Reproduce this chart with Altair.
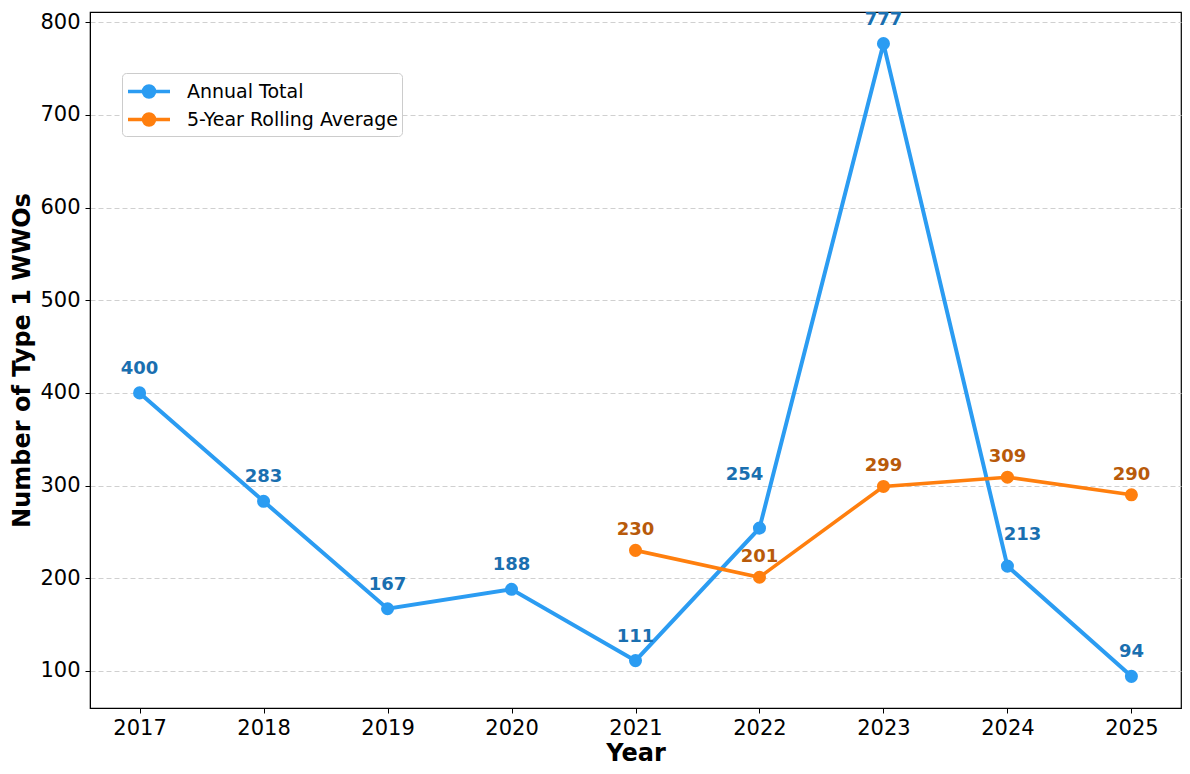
import altair as alt
import pandas as pd

years = [2017, 2018, 2019, 2020, 2021, 2022, 2023, 2024, 2025]
annual_total = [400, 283, 167, 188, 111, 254, 777, 213, 94]
rolling_years = [2021, 2022, 2023, 2024, 2025]
rolling_avg = [230, 201, 299, 309, 290]
series_names = ["Annual Total", "5-Year Rolling Average"]
line_colors = ["#2b9cf2", "#ff7f0e"]
label_colors = ["#1a6fb0", "#b85a0a"]
y_ticks = [100, 200, 300, 400, 500, 600, 700, 800]

df = pd.concat([
    pd.DataFrame({"year": years, "value": annual_total, "series": series_names[0]}),
    pd.DataFrame({"year": rolling_years, "value": rolling_avg, "series": series_names[1]}),
], ignore_index=True)

FONT = "DejaVu Sans"

x = alt.X("year:Q",
          scale=alt.Scale(domain=[2016.6, 2025.4], nice=False, zero=False),
          axis=alt.Axis(values=years, format="d", title="Year", grid=False,
                        labelPadding=4, titlePadding=3))
y = alt.Y("value:Q",
          scale=alt.Scale(domain=[59.85, 811.15], nice=False, zero=False),
          axis=alt.Axis(values=y_ticks, title="Number of Type 1 WWOs", grid=True,
                        gridDash=[5, 3], gridColor="#d0d0d0", gridWidth=1,
                        labelPadding=5, titlePadding=5))

cscale = alt.Scale(domain=series_names, range=line_colors)

legend_path = ("M-1,0L2.36,0M0.24,0A0.44,0.44,0,1,1,1.12,0"
               "A0.44,0.44,0,1,1,0.24,0Z")
legend = alt.Legend(title=None, orient="none", legendX=32, legendY=61,
                    symbolType=legend_path, symbolSize=625, symbolStrokeWidth=3.5,
                    symbolOpacity=1, labelFontSize=19, labelOffset=32, labelLimit=0,
                    labelColor="black", labelFont=FONT,
                    fillColor="white", strokeColor="#cccccc", cornerRadius=4,
                    padding=4, rowPadding=1)

base = alt.Chart(df)

line_annual = base.transform_filter(
    alt.datum.series == series_names[0]
).mark_line(strokeWidth=4, color=line_colors[0]).encode(x=x, y=y)

line_rolling = base.transform_filter(
    alt.datum.series == series_names[1]
).mark_line(strokeWidth=3.6, color=line_colors[1]).encode(x=x, y=y)

points = base.mark_point(filled=True, size=170, strokeWidth=0, opacity=1).encode(
    x=x, y=y,
    fill=alt.Fill("series:N", scale=cscale, legend=legend),
    stroke=alt.Stroke("series:N", scale=cscale, legend=legend))

txt = dict(fontWeight="bold", fontSize=18, font=FONT, align="center", baseline="middle")

blue_default = base.transform_filter(
    (alt.datum.series == series_names[0]) & (alt.datum.year != 2022) & (alt.datum.year != 2024)
).mark_text(dy=-24, color=label_colors[0], **txt).encode(x=x, y=y, text="value:Q")

blue_2022 = base.transform_filter(
    (alt.datum.series == series_names[0]) & (alt.datum.year == 2022)
).mark_text(dx=-15, dy=-53, color=label_colors[0], **txt).encode(x=x, y=y, text="value:Q")

blue_2024 = base.transform_filter(
    (alt.datum.series == series_names[0]) & (alt.datum.year == 2024)
).mark_text(dx=15, dy=-31, color=label_colors[0], **txt).encode(x=x, y=y, text="value:Q")

orange_labels = base.transform_filter(
    alt.datum.series == series_names[1]
).mark_text(dy=-20, color=label_colors[1], **txt).encode(x=x, y=y, text="value:Q")

chart = alt.layer(line_annual, line_rolling, points, blue_default, blue_2022,
                  blue_2024, orange_labels).properties(
    width=1091, height=696,
    autosize=alt.AutoSizeParams(type="none"),
    padding={"left": 82, "top": 4, "right": 1, "bottom": 58}
).configure(font=FONT).configure_view(
    stroke="black", strokeWidth=1.2
).configure_axis(
    domainColor="black", tickColor="black", tickSize=5, labelFontSize=21,
    labelColor="black", titleFontSize=24, titleFontWeight="bold", titleColor="black",
    labelFont=FONT, titleFont=FONT
)

chart.save("out.html", embed_options={"renderer": "svg", "actions": False})
